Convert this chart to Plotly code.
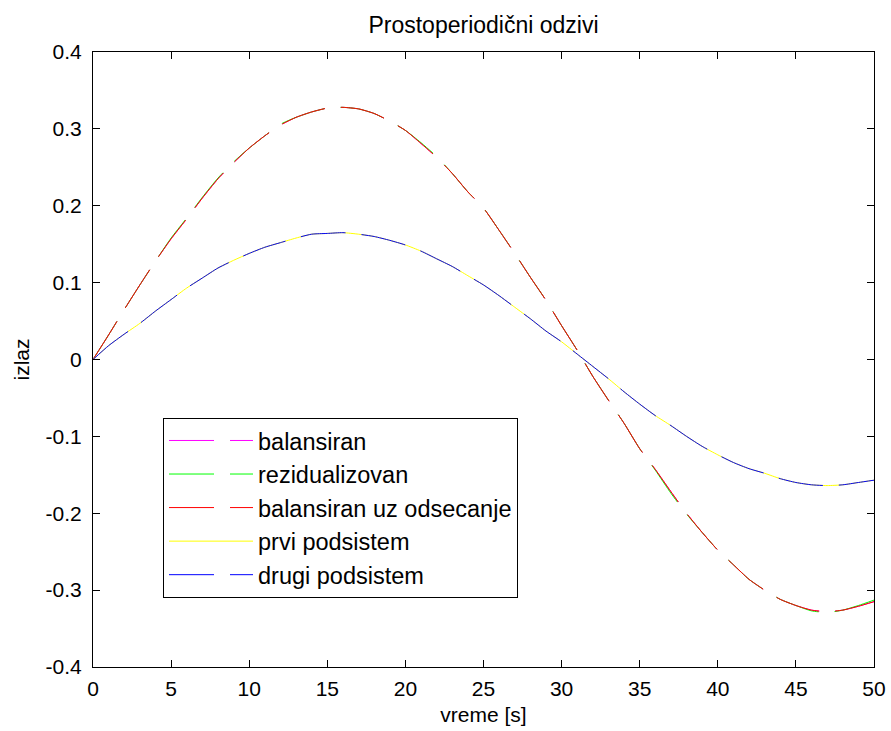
import plotly.graph_objects as go

# time axis [s]
vreme = list(range(0, 51))

# large-amplitude responses
balansiran = [0.000, 0.032, 0.065, 0.097, 0.128, 0.157, 0.183, 0.210, 0.235, 0.256,
              0.275, 0.291, 0.305, 0.315, 0.322, 0.327, 0.328, 0.326, 0.320, 0.310,
              0.298, 0.281, 0.263, 0.242, 0.218, 0.197, 0.168, 0.138, 0.107, 0.077,
              0.044, 0.012, -0.022, -0.053, -0.083, -0.116, -0.143, -0.172, -0.200, -0.225,
              -0.248, -0.267, -0.286, -0.300, -0.312, -0.320, -0.326, -0.328, -0.326, -0.321,
              -0.315]
rezidualizovan = [0.000, 0.032, 0.065, 0.097, 0.128, 0.158, 0.184, 0.211, 0.236, 0.257,
                  0.275, 0.291, 0.306, 0.315, 0.322, 0.327, 0.328, 0.326, 0.320, 0.310,
                  0.298, 0.282, 0.264, 0.242, 0.218, 0.197, 0.168, 0.138, 0.107, 0.077,
                  0.044, 0.012, -0.022, -0.053, -0.083, -0.116, -0.144, -0.174, -0.201, -0.225,
                  -0.248, -0.267, -0.286, -0.300, -0.312, -0.320, -0.327, -0.329, -0.326, -0.320,
                  -0.313]
balansiran_uz_odsecanje = [0.000, 0.032, 0.065, 0.097, 0.128, 0.157, 0.183, 0.210, 0.235, 0.256,
                           0.275, 0.291, 0.305, 0.315, 0.322, 0.327, 0.328, 0.326, 0.320, 0.310,
                           0.298, 0.281, 0.263, 0.242, 0.218, 0.197, 0.168, 0.138, 0.107, 0.077,
                           0.044, 0.012, -0.022, -0.053, -0.083, -0.116, -0.143, -0.172, -0.200, -0.225,
                           -0.248, -0.267, -0.286, -0.300, -0.312, -0.320, -0.326, -0.328, -0.326, -0.321,
                           -0.315]

# small-amplitude responses
prvi_podsistem = [0.000, 0.018, 0.033, 0.047, 0.063, 0.078, 0.093, 0.106, 0.119, 0.129,
                  0.138, 0.146, 0.152, 0.158, 0.163, 0.164, 0.165, 0.163, 0.160, 0.155,
                  0.149, 0.141, 0.131, 0.121, 0.109, 0.097, 0.083, 0.068, 0.053, 0.037,
                  0.023, 0.007, -0.009, -0.025, -0.042, -0.058, -0.073, -0.086, -0.100, -0.113,
                  -0.124, -0.134, -0.142, -0.148, -0.155, -0.160, -0.163, -0.164, -0.163, -0.160,
                  -0.157]
drugi_podsistem = list(prvi_podsistem)

x_ticks = [0, 5, 10, 15, 20, 25, 30, 35, 40, 45, 50]
y_ticks = [-0.4, -0.3, -0.2, -0.1, 0, 0.1, 0.2, 0.3, 0.4]
y_ticktext = ["-0.4", "-0.3", "-0.2", "-0.1", "0", "0.1", "0.2", "0.3", "0.4"]

FONT = "Liberation Sans, Arial, sans-serif"
DASH = "45px,16px"

series = [
    ("balansiran", balansiran, "#ff00ff", DASH),
    ("rezidualizovan", rezidualizovan, "#00ff00", DASH),
    ("balansiran uz odsecanje", balansiran_uz_odsecanje, "#ff0000", DASH),
    ("prvi podsistem", prvi_podsistem, "#ffff00", "solid"),
    ("drugi podsistem", drugi_podsistem, "#0000ff", DASH),
]

fig = go.Figure()
for i, (name, ys, color, dash) in enumerate(series):
    fig.add_trace(go.Scatter(
        x=vreme, y=ys, mode="lines", name=name, legendgroup=f"g{i}",
        line=dict(color=color, width=1, dash=dash, shape="spline", smoothing=0.6),
    ))

axis_common = dict(
    automargin=False,
    showgrid=False, zeroline=False, showline=True, linecolor="black", linewidth=1,
    mirror="ticks", ticks="inside", ticklen=7, tickcolor="black", tickwidth=1,
    tickfont=dict(family=FONT, size=21, color="black"),
)

fig.update_layout(
    template="none",
    width=891, height=731,
    margin=dict(l=93, r=17, t=52, b=64, pad=0),
    paper_bgcolor="white", plot_bgcolor="white",
    title=dict(text="Prostoperiodični odzivi", x=0.5, xref="paper", xanchor="center",
               y=1 - 25 / 731, yanchor="middle",
               font=dict(family=FONT, size=23, color="black")),
    xaxis=dict(range=[0, 50], tickvals=x_ticks, ticktext=[str(v) for v in x_ticks],
               title=dict(text="vreme [s]", font=dict(family=FONT, size=21, color="black"), standoff=8),
               ticklabelstandoff=3, **axis_common),
    yaxis=dict(range=[-0.4, 0.4], tickvals=y_ticks, ticktext=y_ticktext,
               title=dict(text="izlaz", font=dict(family=FONT, size=21, color="black"), standoff=10),
               ticklabelstandoff=6, **axis_common),
    legend=dict(x=(163 - 93) / 781, y=(667.5 - 418) / 615.5, xanchor="left", yanchor="top",
                bgcolor="white", bordercolor="black", borderwidth=1,
                font=dict(family=FONT, size=23.5, color="black"),
                itemwidth=84, tracegroupgap=5, traceorder="normal"),
    showlegend=True,
    hovermode="closest",
)

fig.write_html("out.html")
